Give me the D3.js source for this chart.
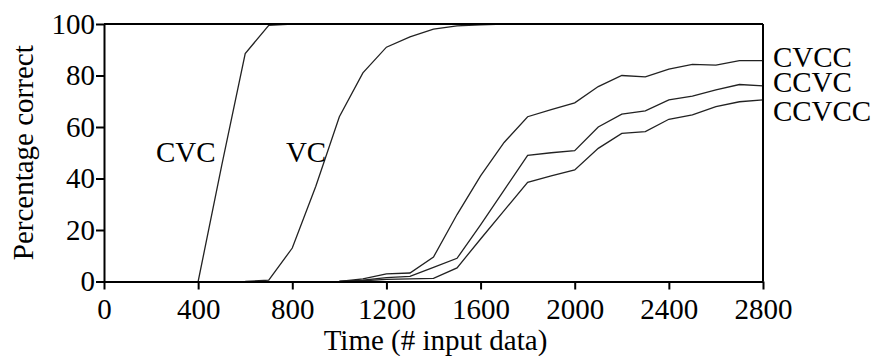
<!DOCTYPE html>
<html>
<head>
  <meta charset="utf-8" />
  <script src="https://d3js.org/d3.v7.min.js"></script>
  <style>
    body { margin: 0; background: #fff; }
    svg { display: block; }
    text { font-family: "Liberation Serif", "Times New Roman", serif; fill: #000; }
    .axis path, .axis line { stroke: #000; stroke-width: 2px; }
    .curve { fill: none; stroke: #222; stroke-width: 1.3px; }
  </style>
</head>
<body>
  <svg id="chart" width="872" height="356"></svg>
  <script>
    // data (x = # input data, y = % correct)
    const cvcX = [400, 500, 600, 700, 800, 1000, 1400, 1800, 2200, 2800];
    const cvcY = [0, 45, 88.5, 99.5, 100, 100, 100, 100, 100, 100];

    const vcX = [600, 700, 800, 900, 1000, 1100, 1200, 1300, 1400, 1500, 1600, 1700, 2000, 2400, 2800];
    const vcY = [0, 0.5, 13, 37, 64, 81, 91, 95, 98, 99.3, 99.7, 100, 100, 100, 100];

    const longX = [1000, 1100, 1200, 1300, 1400, 1500, 1600, 1700, 1800, 1900, 2000, 2100, 2200, 2300, 2400, 2500, 2600, 2700, 2800];
    const cvccY  = [0, 1, 3, 3.3, 9.5, 26, 41, 54, 64, 66.7, 69.4, 75.7, 80, 79.5, 82.5, 84.3, 84, 85.8, 85.8];
    const ccvcY  = [0, 0.5, 1.5, 2, 5.5, 9, 22, 35.5, 49, 50, 50.8, 60, 65, 66.3, 70.5, 72, 74.4, 76.5, 76];
    const ccvccY = [0, 0.3, 0.8, 1, 1.2, 5.3, 16.5, 27.5, 38.5, 41, 43.3, 51.7, 57.5, 58.2, 63, 64.7, 67.9, 69.8, 70.5];

    const xTicks = [0, 400, 800, 1200, 1600, 2000, 2400, 2800];
    const yTicks = [0, 20, 40, 60, 80, 100];

    // label anchors, in data units
    const labelNames = ["CVC", "VC", "CVCC", "CCVC", "CCVCC"];
    const labelX = [221, 773, 2842, 2842, 2842];
    const labelY = [46.4, 46.4, 83.3, 73.6, 62.3];

    const FS = "29px";
    const margin = { top: 24, right: 109, bottom: 74.5, left: 104 };
    const W = 872, H = 356;
    const svg = d3.select("#chart");

    const x = d3.scaleLinear().domain([0, 2800]).range([margin.left, W - margin.right]);
    const y = d3.scaleLinear().domain([0, 100]).range([H - margin.bottom, margin.top]);

    const series = [
      cvcX.map((v, i) => [v, cvcY[i]]),
      vcX.map((v, i) => [v, vcY[i]]),
      longX.map((v, i) => [v, cvccY[i]]),
      longX.map((v, i) => [v, ccvcY[i]]),
      longX.map((v, i) => [v, ccvccY[i]])
    ];

    const line = d3.line().x(d => x(d[0])).y(d => y(d[1]));

    svg.append("g").selectAll("path")
      .data(series)
      .join("path")
      .attr("class", "curve")
      .attr("d", line);

    // frame: top and right edges
    svg.append("line")
      .attr("x1", x(0)).attr("x2", x(2800))
      .attr("y1", y(100)).attr("y2", y(100))
      .attr("stroke", "#000").attr("stroke-width", 2);
    svg.append("line")
      .attr("x1", x(2800)).attr("x2", x(2800))
      .attr("y1", y(100)).attr("y2", y(0))
      .attr("stroke", "#000").attr("stroke-width", 2);

    const xAxis = svg.append("g")
      .attr("class", "axis")
      .attr("transform", `translate(0,${y(0)})`)
      .call(d3.axisBottom(x).tickValues(xTicks).tickFormat(d3.format("d"))
        .tickSize(8).tickPadding(9).tickSizeOuter(0));
    xAxis.selectAll("text").style("font-size", FS);

    const yAxis = svg.append("g")
      .attr("class", "axis")
      .attr("transform", `translate(${x(0)},0)`)
      .call(d3.axisLeft(y).tickValues(yTicks).tickFormat(d3.format("d"))
        .tickSize(8).tickPadding(1).tickSizeOuter(0));
    yAxis.selectAll("text").style("font-size", FS);

    svg.append("text")
      .attr("transform", `translate(33,${(y(0) + y(100)) / 2}) rotate(-90)`)
      .attr("text-anchor", "middle")
      .style("font-size", FS)
      .text("Percentage correct");

    svg.append("text")
      .attr("x", (x(0) + x(2800)) / 2 + 2)
      .attr("y", 350)
      .attr("text-anchor", "middle")
      .style("font-size", FS)
      .text("Time (# input data)");

    svg.append("g").selectAll("text")
      .data(labelNames)
      .join("text")
      .attr("x", (d, i) => x(labelX[i]))
      .attr("y", (d, i) => y(labelY[i]))
      .style("font-size", FS)
      .text(d => d);
  </script>
</body>
</html>
